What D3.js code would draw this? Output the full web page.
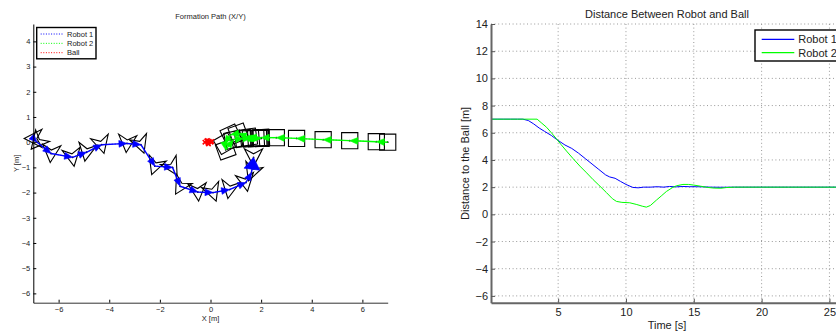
<!DOCTYPE html>
<html><head><meta charset="utf-8">
<script src="https://cdn.jsdelivr.net/npm/d3@7"></script>
<style>
html,body{margin:0;padding:0;background:#fff;overflow:hidden}
text{font-family:"Liberation Sans",Arial,Helvetica,sans-serif;fill:#222}
</style></head><body>
<svg id="fig" width="836" height="333"></svg>
<script>
// ---------- Left plot data: Formation Path ----------
const xTicksL = [-6,-4,-2,0,2,4,6];
const yTicksL = [-6,-5,-4,-3,-2,-1,0,1,2,3,4];
// Robot 1 poses (x, y, glyph orientation deg)
const r1x = [-7.0,-6.85,-6.3,-5.45,-4.9,-4.3,-3.3,-2.75,-2.2,-1.5,-1.2,-0.5,0.1,0.75,1.4,1.62,1.7];
const r1y = [0.15,0.0,-0.45,-0.6,-0.4,-0.1,-0.05,-0.1,-0.95,-1.0,-1.75,-1.98,-2.0,-1.88,-1.6,-1.2,-0.6];
const r1th = [180,-130,-95,-80,-100,-75,-95,-70,-110,-60,-120,-85,-70,-100,-80,-110,-90];
// Robot 2 poses (x, y, square rotation deg)
const r2x = [7.0,6.55,5.5,4.45,3.4,2.6,2.0,1.5,1.1,0.8,0.55,0.6,0.9,1.3,1.6,1.8,1.9,1.95,2.0];
const r2y = [0.0,0.02,0.06,0.1,0.15,0.18,0.18,0.2,0.35,0.3,-0.05,-0.3,0.1,0.15,0.15,0.15,0.15,0.15,0.15];
const r2th = [0,0,0,0,0,0,3,8,20,25,30,20,12,8,5,3,2,0,0];
// Ball positions
const ballX = [-0.22,-0.15,-0.1,-0.05,0.02,-0.12,-0.08,0.05];
const ballY = [0.0,0.05,-0.04,0.04,0.0,0.07,-0.07,0.03];
const legendL = ["Robot 1","Robot 2","Ball"];

// ---------- Right plot data: Distance ----------
const xTicksR = [5,10,15,20,25];
const yTicksR = [-6,-4,-2,0,2,4,6,8,10,12,14];
const t1 = [0.05,0.5,1,1.5,2,2.4,2.8,3.2,3.6,4.0,4.5,4.9,5.5,6.0,6.5,7.0,7.5,8.0,8.5,8.8,9.2,9.6,10.0,10.5,10.9,11.3,11.8,12.3,12.8,13.2,13.7,14.2,14.7,15.2,15.7,16.2,17,18,20,22,24,26];
const d1 = [7.0,7.0,7.0,7.0,7.0,7.0,6.9,6.65,6.35,6.1,5.8,5.5,5.1,4.85,4.5,4.1,3.7,3.3,2.9,2.75,2.65,2.42,2.2,1.98,1.95,2.0,2.0,2.03,2.0,2.05,2.02,2.05,2.03,2.03,2.02,2.0,1.99,2.0,2.0,2.0,2.0,2.0];
const t2 = [0.05,0.5,1,1.5,2,2.5,3,3.45,3.8,4.15,4.5,4.88,5.2,5.62,6.1,6.6,7.1,7.58,8.0,8.56,9.0,9.3,9.7,10.28,10.8,11.2,11.5,11.8,12.25,12.6,12.98,13.4,13.72,14.2,14.6,15.0,15.5,16.0,16.5,17.0,17.4,18,20,22,24,26];
const d2 = [7.0,7.0,7.0,7.0,7.0,7.0,7.0,7.0,6.7,6.4,6.0,5.55,5.15,4.65,4.1,3.55,3.05,2.55,2.15,1.6,1.15,0.95,0.88,0.85,0.72,0.6,0.53,0.65,1.05,1.35,1.68,1.95,2.1,2.2,2.2,2.15,2.07,1.98,1.93,1.92,1.97,2.0,2.0,2.0,2.0,2.0];
const legendR = ["Robot 1","Robot 2"];

const BLUE="#0000ff", GREEN="#00ff00", RED="#ff0000";
const svg = d3.select("#fig");

// ================= LEFT PLOT =================
const L = {l:33.3, r:387.7, t:24, b:302.7};
const sx = d3.scaleLinear([-7,7],[L.l,L.r]);
const sy = d3.scaleLinear([-6.37,4.69],[L.b,L.t]);
const gL = svg.append("g");

function arrow(g, x0,y0,x1,y1,color,hl,hw,sw){
  const dx=x1-x0, dy=y1-y0, len=Math.hypot(dx,dy)||1;
  const ux=dx/len, uy=dy/len;
  g.append("line").attr("x1",x0).attr("y1",y0).attr("x2",x1-ux*hl*0.5).attr("y2",y1-uy*hl*0.5)
    .attr("stroke",color).attr("stroke-width",sw);
  const bx=x1-ux*hl, by=y1-uy*hl;
  g.append("path").attr("d",`M${x1},${y1}L${bx-uy*hw},${by+ux*hw}L${bx+uy*hw},${by-ux*hw}Z`)
    .attr("fill",color).attr("stroke",color).attr("stroke-width",0.6);
}

// dotted paths
const lineL = d3.line().x(d=>sx(d[0])).y(d=>sy(d[1]));
gL.append("path").attr("d",lineL(r1x.map((v,i)=>[v,r1y[i]]))).attr("fill","none")
  .attr("stroke",BLUE).attr("stroke-width",1).attr("stroke-dasharray","1,2");
gL.append("path").attr("d",lineL(r2x.map((v,i)=>[v,r2y[i]]))).attr("fill","none")
  .attr("stroke",GREEN).attr("stroke-width",1).attr("stroke-dasharray","1,2");

// Robot 1 glyphs (darts)
const dart = [[0.36,0],[-0.34,0.36],[-0.14,0],[-0.34,-0.36]];
r1x.forEach((cx,i)=>{
  const a=r1th[i]*Math.PI/180, c=Math.cos(a), s=Math.sin(a), cy=r1y[i];
  const pts = dart.map(([u,v])=>[sx(cx+u*c-v*s), sy(cy+u*s+v*c)]);
  gL.append("path").attr("d","M"+pts.map(p=>p.join(",")).join("L")+"Z")
    .attr("fill","none").attr("stroke","#000").attr("stroke-width",1.1);
  gL.append("circle").attr("cx",sx(cx)).attr("cy",sy(cy)).attr("r",0.9).attr("fill","#000");
});
// Robot 2 squares
const half=0.32;
r2x.forEach((cx,i)=>{
  const a=r2th[i]*Math.PI/180, c=Math.cos(a), s=Math.sin(a), cy=r2y[i];
  const sq=[[half,half],[-half,half],[-half,-half],[half,-half]];
  const pts=sq.map(([u,v])=>[sx(cx+u*c-v*s), sy(cy+u*s+v*c)]);
  gL.append("path").attr("d","M"+pts.map(p=>p.join(",")).join("L")+"Z")
    .attr("fill","none").attr("stroke","#000").attr("stroke-width",1.1);
  gL.append("circle").attr("cx",sx(cx)).attr("cy",sy(cy)).attr("r",0.9).attr("fill","#000");
});
// arrows
for(let i=0;i<r1x.length-1;i++){
  const last = i===r1x.length-2;
  arrow(gL, sx(r1x[i]),sy(r1y[i]),sx(r1x[i+1]),sy(r1y[i+1]),BLUE,last?12:8,last?8:3.4,1.4);
}
for(let i=0;i<r2x.length-1;i++)
  arrow(gL, sx(r2x[i]),sy(r2y[i]),sx(r2x[i+1]),sy(r2y[i+1]),GREEN,8,3.4,1.4);
// ball
ballX.forEach((bx,i)=>{
  const px=sx(bx), py=sy(ballY[i]), k=2.2;
  gL.append("path").attr("d",`M${px-k},${py-k}L${px+k},${py+k}M${px-k},${py+k}L${px+k},${py-k}`)
    .attr("stroke",RED).attr("stroke-width",1.6);
});

// axes left
const axL = gL.append("g").attr("transform",`translate(0,${L.b})`)
  .call(d3.axisBottom(sx).tickValues(xTicksL).tickSize(-3).tickSizeOuter(0).tickPadding(4));
const ayL = gL.append("g").attr("transform",`translate(${L.l},0)`)
  .call(d3.axisLeft(sy).tickValues(yTicksL).tickSize(-3).tickSizeOuter(0).tickPadding(3));
[axL,ayL].forEach(a=>{
  a.selectAll("text").style("font-size","7.5px").attr("fill","#222");
  a.selectAll("line").attr("stroke","#000");
  a.select(".domain").attr("stroke","#000").attr("stroke-width",1);
});
axL.select(".domain").attr("stroke","#333");
gL.append("text").attr("x",210.5).attr("y",18.8).attr("text-anchor","middle").style("font-size","7.5px").text("Formation Path (X/Y)");
gL.append("text").attr("x",210.5).attr("y",321).attr("text-anchor","middle").style("font-size","7.5px").text("X [m]");
gL.append("text").attr("transform","translate(18.5,163.4) rotate(-90)").attr("text-anchor","middle").style("font-size","7.5px").text("Y [m]");
// legend left
const lgL = gL.append("g");
lgL.append("rect").attr("x",36.7).attr("y",27.5).attr("width",59.3).attr("height",31.3)
  .attr("fill","#fff").attr("stroke","#000").attr("stroke-width",1.4);
[BLUE,GREEN,RED].forEach((c,i)=>{
  const yy=34+i*9.35;
  lgL.append("line").attr("x1",40.7).attr("x2",63).attr("y1",yy).attr("y2",yy)
    .attr("stroke",c).attr("stroke-width",1).attr("stroke-dasharray","1,1.6");
  lgL.append("text").attr("x",67).attr("y",yy+2.7).style("font-size","7.5px").text(legendL[i]);
});

// ================= RIGHT PLOT =================
const R = {l:491, r:843, t:24, b:302.7};
const tx = d3.scaleLinear([0.05,26],[R.l,R.r]);
const ty = d3.scaleLinear([-6.5,14],[R.b,R.t]);
const gR = svg.append("g");
// grid
xTicksR.forEach(v=>gR.append("line").attr("x1",tx(v)).attr("x2",tx(v)).attr("y1",R.t).attr("y2",R.b)
  .attr("stroke","#999").attr("stroke-width",1).attr("stroke-dasharray","1,2.6"));
yTicksR.forEach(v=>gR.append("line").attr("x1",R.l).attr("x2",R.r).attr("y1",ty(v)).attr("y2",ty(v))
  .attr("stroke","#999").attr("stroke-width",1).attr("stroke-dasharray","1,2.6"));
const lineR = d3.line().x(d=>tx(d[0])).y(d=>ty(d[1]));
gR.append("path").attr("d",lineR(t1.map((v,i)=>[v,d1[i]]))).attr("fill","none").attr("stroke",BLUE).attr("stroke-width",1);
gR.append("path").attr("d",lineR(t2.map((v,i)=>[v,d2[i]]))).attr("fill","none").attr("stroke",GREEN).attr("stroke-width",1);
const axR = gR.append("g").attr("transform",`translate(0,${R.b})`)
  .call(d3.axisBottom(tx).tickValues(xTicksR).tickSize(-4).tickSizeOuter(0).tickPadding(5.5));
const ayR = gR.append("g").attr("transform",`translate(${R.l},0)`)
  .call(d3.axisLeft(ty).tickValues(yTicksR).tickSize(-4).tickSizeOuter(0).tickPadding(3));
[axR,ayR].forEach(a=>{
  a.selectAll("text").style("font-size","11px").attr("fill","#222");
  a.selectAll("line").attr("stroke","#555");
  a.select(".domain").attr("stroke","#666").attr("stroke-width",2);
});
gR.append("text").attr("x",667).attr("y",17.6).attr("text-anchor","middle").style("font-size","11px").text("Distance Between Robot and Ball");
gR.append("text").attr("x",667).attr("y",329).attr("text-anchor","middle").style("font-size","11px").text("Time [s]");
gR.append("text").attr("transform","translate(469,163.4) rotate(-90)").attr("text-anchor","middle").style("font-size","11px").text("Distance to the Ball [m]");
const lgR = gR.append("g");
lgR.append("rect").attr("x",755).attr("y",30).attr("width",86).attr("height",31)
  .attr("fill","#fff").attr("stroke","#000").attr("stroke-width",1.4);
[BLUE,GREEN].forEach((c,i)=>{
  const yy=39.3+i*13.4;
  lgR.append("line").attr("x1",761.7).attr("x2",794.3).attr("y1",yy).attr("y2",yy).attr("stroke",c).attr("stroke-width",1.2);
  lgR.append("text").attr("x",798.3).attr("y",yy+3.9).style("font-size","11px").text(legendR[i]);
});
</script>
</body></html>
